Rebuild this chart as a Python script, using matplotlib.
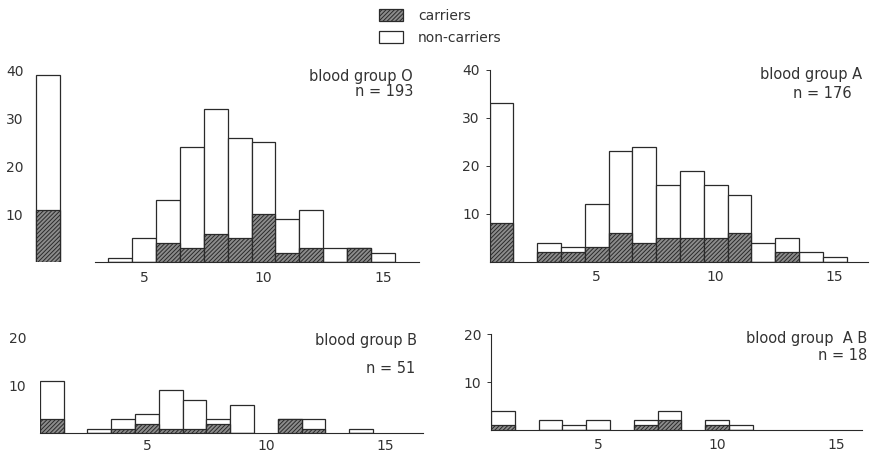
import numpy as np
import matplotlib
matplotlib.use('Agg')
import matplotlib.pyplot as plt
from matplotlib.patches import Patch

plt.rcParams['font.family'] = ['DejaVu Sans']
plt.rcParams['hatch.linewidth'] = 0.7

# data: counts per class, left bar (x=1) is the separate group
x_O = [1, 4, 5, 6, 7, 8, 9, 10, 11, 12, 13, 14, 15]
total_O = [39, 1, 5, 13, 24, 32, 26, 25, 9, 11, 3, 3, 2]
carr_O = [11, 0, 0, 4, 3, 6, 5, 10, 2, 3, 0, 3, 0]

x_A = [1, 3, 4, 5, 6, 7, 8, 9, 10, 11, 12, 13, 14, 15]
total_A = [33, 4, 3, 12, 23, 24, 16, 19, 16, 14, 4, 5, 2, 1]
carr_A = [8, 2, 2, 3, 6, 4, 5, 5, 5, 6, 0, 2, 0, 0]

x_B = [1, 3, 4, 5, 6, 7, 8, 9, 11, 12, 14]
total_B = [11, 1, 3, 4, 9, 7, 3, 6, 3, 3, 1]
carr_B = [3, 0, 1, 2, 1, 1, 2, 0, 3, 1, 0]

x_AB = [1, 3, 4, 5, 7, 8, 10, 11]
total_AB = [4, 2, 1, 2, 2, 4, 2, 1]
carr_AB = [1, 0, 0, 0, 1, 2, 1, 0]

W, H = 875, 454
fig = plt.figure(figsize=(W / 100, H / 100), dpi=100)

ink = '#2a2a2a'
txt = '#333333'
hatch_face = '#8c8c8c'


def add_ax(left, right, bottom, top):
    # pixel box -> figure fraction
    return fig.add_axes([left / W, 1 - bottom / H, (right - left) / W, (bottom - top) / H])


def draw(ax, xs, tot, car, xlim, ylim):
    ax.bar(xs, tot, width=1.0, color='white', edgecolor=ink, linewidth=0.9, zorder=2)
    ax.bar(xs, car, width=1.0, color=hatch_face, edgecolor=ink, hatch='////////',
           linewidth=0.9, zorder=3)
    ax.set_xlim(*xlim)
    ax.set_ylim(*ylim)
    ax.set_xticks([5, 10, 15])
    ax.spines['top'].set_visible(False)
    ax.spines['right'].set_visible(False)
    for s in ax.spines.values():
        s.set_color(ink)
        s.set_linewidth(0.8)
    ax.tick_params(axis='x', length=0, pad=6, labelsize=10, colors=txt)
    ax.tick_params(axis='y', labelsize=10, colors=txt)
    ax.patch.set_alpha(0)


# blood group O
ax1 = add_ax(31.7, 418.9, 262.3, 60.7)
draw(ax1, x_O, total_O, carr_O, (0.3, 16.5), (0, 42))
ax1.spines['left'].set_visible(False)
ax1.spines['bottom'].set_bounds(2.95, 16.5)
ax1.set_yticks([10, 20, 30, 40])
ax1.tick_params(axis='y', length=0, pad=6)

# blood group A
ax2 = add_ax(489.6, 868, 261.7, 60.1)
draw(ax2, x_A, total_A, carr_A, (0.5, 16.4), (0, 42))
ax2.spines['left'].set_bounds(0, 40)
ax2.set_yticks([10, 20, 30, 40])
ax2.tick_params(axis='y', length=3, width=0.7, pad=4)

# blood group B
ax3 = add_ax(39.9, 423, 433.3, 327.7)
draw(ax3, x_B, total_B, carr_B, (0.5, 16.6), (0, 22))
ax3.spines['left'].set_visible(False)
ax3.set_yticks([10, 20])
ax3.tick_params(axis='y', length=0, pad=10)
ax3.tick_params(axis='x', pad=4)

# blood group AB
ax4 = add_ax(490.9, 862.2, 430, 324.4)
draw(ax4, x_AB, total_AB, carr_AB, (0.5, 16.1), (0, 22))
ax4.spines['left'].set_bounds(0, 20)
ax4.set_yticks([10, 20])
ax4.tick_params(axis='y', length=3, width=0.7, pad=4)

# panel captions
fs = 10.5
fig.text(413 / W, 1 - 76.7 / H, 'blood group O', ha='right', va='center', fontsize=fs, color=txt)
fig.text(413 / W, 1 - 91.7 / H, 'n = 193', ha='right', va='center', fontsize=fs, color=txt)
fig.text(862 / W, 1 - 75 / H, 'blood group A', ha='right', va='center', fontsize=fs, color=txt)
fig.text(852 / W, 1 - 93.3 / H, 'n = 176', ha='right', va='center', fontsize=fs, color=txt)
fig.text(417 / W, 1 - 340 / H, 'blood group B', ha='right', va='center', fontsize=fs, color=txt)
fig.text(415 / W, 1 - 368.3 / H, 'n = 51', ha='right', va='center', fontsize=fs, color=txt)
fig.text(867 / W, 1 - 338.3 / H, 'blood group  A B', ha='right', va='center', fontsize=fs, color=txt)
fig.text(867 / W, 1 - 355 / H, 'n = 18', ha='right', va='center', fontsize=fs, color=txt)

# legend
handles = [Patch(facecolor=hatch_face, edgecolor=ink, hatch='////////', linewidth=0.9),
           Patch(facecolor='white', edgecolor=ink, linewidth=0.9)]
fig.legend(handles, ['carriers', 'non-carriers'], loc='upper left',
           bbox_to_anchor=(366 / W, 1 + 4 / H), frameon=False, fontsize=10,
           handlelength=1.75, handleheight=0.95, handletextpad=1.1,
           labelspacing=0.6, labelcolor=txt)

fig.savefig('out.png', dpi=100, facecolor='white')
